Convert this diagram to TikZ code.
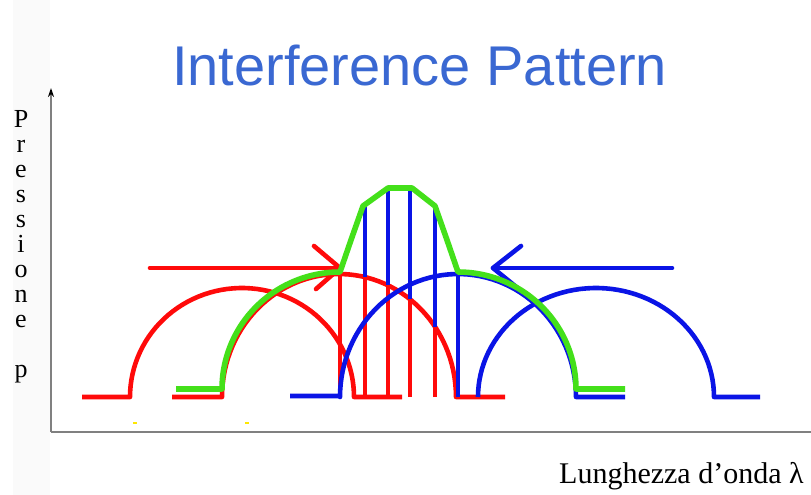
\documentclass[tikz,border=0pt]{standalone}
\usepackage{fontspec}
\usetikzlibrary{arrows.meta}
\setmainfont{Liberation Serif}
\newfontfamily\titlefont{Liberation Sans}
\definecolor{wred}{HTML}{FF0A0A}
\definecolor{wblue}{HTML}{0A14E6}
\definecolor{wgreen}{HTML}{44E01A}
\definecolor{ttblue}{HTML}{3A68D2}
\definecolor{axgray}{HTML}{808080}
\tikzset{
  redw/.style={draw=wred,line width=4.6pt,line join=round},
  bluew/.style={draw=wblue,line width=4.6pt,line join=round},
  greenw/.style={draw=wgreen,line width=5.6pt,line join=round},
  axisline/.style={draw=axgray,line width=1.3pt},
  vlab/.style={font=\fontsize{26}{26}\selectfont,anchor=base,inner sep=0pt},
}
\begin{document}
\begin{tikzpicture}[x=1pt,y=-1pt]
\useasboundingbox (0,0) rectangle (811,495);
\fill[white] (0,0) rectangle (811,495);
\fill[black!2] (13,0) rectangle (50,495);
% title
\node[anchor=base west,inner sep=0pt,text=ttblue,font=\titlefont\fontsize{56}{60}\selectfont] (title) at (172,85) {Interference Pattern};
% axes
\coordinate (origin) at (51,432);
\coordinate (ytop) at (51,88);
\coordinate (xend) at (811,432);
\draw[axisline] (origin) -- (xend);
\draw[axisline,-{Stealth[length=9pt,width=6pt,black]}] (origin) -- (ytop);
% y label
\foreach \ch/\yy [count=\i] in {P/127,r/152,e/177,s/202,s/227,i/252,o/277,n/302,e/327,p/377}
  \node[vlab] (yl\i) at (21,\yy) {\ch};
% x label
\node[anchor=base west,inner sep=0pt,font=\fontsize{30}{32}\selectfont] (xlab) at (559,483) {Lunghezza d’onda λ};
% yellow specks
\draw[yellow!90!orange,line width=2pt] (133,423) -- (137,423);
\draw[yellow!90!orange,line width=2pt] (245,423) -- (249,423);
% red wave 1
\draw[redw] (82,397) -- (130,397) -- plot[domain=180:360,samples=60] ({242+112*cos(\x)},{397+109*sin(\x)}) -- (402,397);
% red wave 2
\draw[redw] (172,397) -- (222,397) -- plot[domain=180:360,samples=60] ({339+117*cos(\x)},{397+123*sin(\x)}) -- (505,397);
% red bars
\foreach \xx in {340,365,388,410,435}
  \draw[redw] (\xx,397) -- ({\xx},{397-123*sqrt(1-((\xx-339)/117)^2)});
% blue bars
\draw[bluew] (365,205) -- (365,277);
\draw[bluew] (388,188) -- (388,285);
\draw[bluew] (410,188) -- (410,299);
\draw[bluew] (435,206) -- (435,327);
\draw[bluew] (458,272) -- (458,397);
% blue wave 2
\draw[bluew] (290,396) -- (340,396) -- plot[domain=180:360,samples=60] ({458+118*cos(\x)},{397+123*sin(\x)}) -- (625,397);
% blue wave 3
\draw[bluew] plot[domain=180:360,samples=60] ({596+118*cos(\x)},{397+109*sin(\x)}) -- (760,397);
% arrows
\coordinate (ra0) at (150,268);
\coordinate (ra1) at (340,268);
\coordinate (ru) at (314,246);
\coordinate (rd) at (316,289);
\draw[redw,line cap=round] (ra0) -- (ra1);
\draw[redw,line cap=round] (ru) -- (ra1) -- (rd);
\coordinate (ba0) at (672,268);
\coordinate (ba1) at (493,268);
\coordinate (bu) at (521,246);
\coordinate (bd) at (520,290);
\draw[bluew,line cap=round] (ba0) -- (ba1);
\draw[bluew,line cap=round] (bu) -- (ba1) -- (bd);
% green sum
\draw[greenw] (176,389) -- (222,389) -- plot[domain=180:270,samples=40] ({340+118*cos(\x)},{389+117*sin(\x)})
  -- (351,240) -- (363,206) -- (388,188) -- (412,188) -- (435,206) -- (447,240) -- (458,272)
  -- plot[domain=270:360,samples=40] ({458+118*cos(\x)},{389+117*sin(\x)}) -- (625,389);
\end{tikzpicture}
\end{document}
